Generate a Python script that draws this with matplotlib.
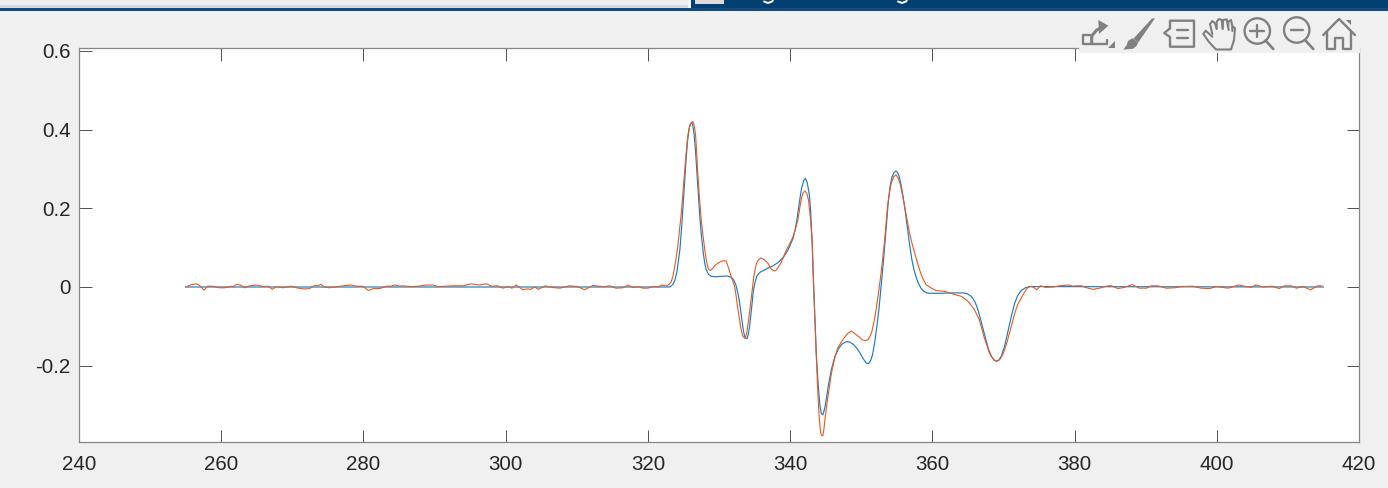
import matplotlib
matplotlib.use('Agg')
import matplotlib.pyplot as plt
from matplotlib.patches import Circle, Polygon, Rectangle

# --- data ---
x_blue = [255.0, 323.1, 323.5, 323.8, 324.1, 324.5, 324.8, 325.0, 325.2, 325.4, 325.6, 325.8, 326.0, 326.15,
          326.3, 326.5, 326.7, 326.9, 327.1, 327.3, 327.5, 327.8, 328.0, 328.2, 328.5, 328.9, 329.5, 330.3,
          331.1, 331.7, 332.1, 332.4, 332.7, 332.9, 333.2, 333.4, 333.6, 333.8, 333.95, 334.1, 334.3, 334.55,
          334.8, 335.0, 335.3, 335.6, 335.9, 336.7, 337.6, 338.3, 339.0, 339.7, 340.4, 340.7, 341.0, 341.3,
          341.6, 341.9, 342.15, 342.4, 342.7, 342.9, 343.1, 343.3, 343.5, 343.7, 343.95, 344.2, 344.4, 344.6,
          344.85, 345.1, 345.4, 345.8, 346.3, 346.8, 347.3, 347.9, 348.4, 348.9, 349.4, 349.8, 350.3, 350.7,
          351.0, 351.3, 351.6, 351.9, 352.2, 352.5, 353.1, 353.5, 353.8, 354.05, 354.3, 354.6, 354.9, 355.15,
          355.4, 355.75, 356.1, 356.5, 356.8, 357.1, 357.4, 357.7, 358.0, 358.4, 358.8, 359.2, 359.6, 361.0,
          363.0, 364.3, 364.9, 365.5, 366.0, 366.4, 366.9, 367.4, 367.9, 368.3, 368.65, 369.0, 369.35, 369.7,
          370.2, 370.7, 371.1, 371.6, 372.0, 372.5, 373.1, 373.7, 415.0]
y_blue = [0.0, 0.0, 0.006, 0.017, 0.040, 0.095, 0.165, 0.222, 0.278, 0.332, 0.374, 0.402, 0.416, 0.418,
          0.412, 0.388, 0.345, 0.290, 0.232, 0.180, 0.135, 0.085, 0.060, 0.044, 0.033, 0.027, 0.026, 0.027,
          0.028, 0.025, 0.017, 0.004, -0.019, -0.040, -0.080, -0.108, -0.125, -0.131, -0.131, -0.122, -0.100, -0.060,
          -0.015, 0.007, 0.027, 0.034, 0.039, 0.046, 0.054, 0.062, 0.074, 0.094, 0.123, 0.145, 0.176, 0.215,
          0.250, 0.270, 0.276, 0.266, 0.235, 0.190, 0.110, 0.002, -0.090, -0.176, -0.250, -0.303, -0.322, -0.325,
          -0.310, -0.284, -0.248, -0.210, -0.177, -0.157, -0.145, -0.139, -0.140, -0.146, -0.156, -0.167, -0.183, -0.193,
          -0.195, -0.188, -0.172, -0.140, -0.100, -0.055, 0.061, 0.150, 0.215, 0.255, 0.278, 0.291, 0.295, 0.290,
          0.277, 0.245, 0.205, 0.150, 0.108, 0.072, 0.045, 0.026, 0.011, -0.003, -0.011, -0.015, -0.016, -0.016,
          -0.015, -0.015, -0.017, -0.024, -0.038, -0.057, -0.090, -0.125, -0.158, -0.176, -0.185, -0.189, -0.186, -0.176,
          -0.148, -0.108, -0.075, -0.040, -0.022, -0.009, -0.002, 0.001, 0.0]

x_orange_left = [255.0, 255.8, 256.5, 256.9, 257.6, 258.1, 258.8, 259.7, 260.5, 261.4, 261.6, 262.2, 262.8,
                 263.3, 264.0, 265.0, 265.9, 266.6, 267.2, 267.7, 268.7, 269.8, 270.8, 271.7, 272.4, 273.2,
                 273.6, 274.0, 274.5, 275.2, 276.4, 277.6, 278.3, 279.0, 279.9, 280.7, 281.4, 282.3, 283.2,
                 283.9, 284.4, 285.1, 285.5, 286.7, 287.7, 288.8, 289.8, 290.5, 291.6, 292.6, 294.0, 295.15,
                 295.9, 296.3, 297.3, 298.0, 298.9, 299.6, 300.3, 300.9, 301.5, 302.4, 303.1, 303.5, 304.1,
                 304.6, 305.6, 306.4, 307.6, 309.0, 310.1, 311.1, 312.3, 313.0, 313.9, 314.6, 315.5, 316.5,
                 317.2, 317.9, 318.6, 319.3, 320.0, 320.7, 321.4, 322.0]
y_orange_left = [0.0, 0.006, 0.008, 0.005, -0.008, 0.002, 0.002, -0.002, -0.002, 0.002, 0.0, 0.007, 0.004,
                 -0.002, 0.003, 0.005, 0.001, 0.002, -0.006, 0.001, -0.002, 0.002, -0.003, -0.005, -0.004, 0.004,
                 0.003, 0.007, 0.0, -0.002, 0.001, 0.004, 0.005, 0.002, 0.002, -0.009, -0.004, -0.004, 0.002,
                 0.002, 0.005, 0.002, 0.003, 0.001, 0.002, 0.005, 0.005, 0.001, 0.002, 0.003, 0.003, 0.008,
                 0.006, 0.005, 0.008, 0.002, 0.003, -0.003, 0.001, -0.003, 0.005, -0.007, -0.005, -0.006, 0.0,
                 -0.006, 0.003, -0.001, -0.003, 0.003, 0.001, -0.007, 0.004, 0.002, 0.001, 0.003, -0.003, -0.002,
                 0.005, -0.001, 0.001, -0.003, -0.003, 0.001, 0.0, 0.005]

x_orange_mid = [322.6, 323.0, 323.3, 323.5, 323.7, 323.95, 324.2, 324.45, 324.7, 324.9, 325.1, 325.35, 325.6,
                325.85, 326.1, 326.3, 326.5, 326.7, 326.85, 327.0, 327.25, 327.5, 327.75, 328.0, 328.2, 328.4,
                328.6, 328.8, 329.1, 329.4, 329.8, 330.3, 330.6, 331.0, 331.35, 331.7, 332.0, 332.2, 332.4,
                332.6, 332.85, 333.1, 333.35, 333.6, 333.75, 333.9, 334.15, 334.4, 334.65, 334.9, 335.1, 335.3,
                335.6, 335.9, 336.4, 336.9, 337.3, 337.6, 337.85, 338.1, 338.4, 338.7, 339.1, 339.5, 339.95,
                340.4, 340.75, 341.1, 341.35, 341.6, 341.85, 342.1, 342.35, 342.6, 342.85, 343.1, 343.3, 343.5,
                343.7, 343.85, 344.0, 344.15, 344.3, 344.45, 344.6, 344.75, 344.9, 345.15, 345.4, 345.7, 346.0,
                346.35, 346.7, 347.2, 347.7, 348.15, 348.6, 349.0, 349.4, 349.8, 350.1, 350.5, 350.9, 351.2,
                351.5, 351.8, 352.1, 352.45, 352.8, 353.05, 353.3, 353.5, 353.7, 353.95, 354.2, 354.55, 354.9,
                355.2, 355.5, 355.8, 356.1, 356.45, 356.8, 357.15, 357.5, 357.85, 358.2, 358.6, 359.1, 359.8,
                360.5, 361.7, 362.9, 364.1, 365.0, 365.9, 366.6, 367.3, 367.7, 368.0, 368.35, 368.7, 369.2,
                369.55, 369.9, 370.25, 370.6, 371.1, 371.6, 372.0, 372.5, 373.0, 373.4, 373.9]
y_orange_mid = [0.002, 0.007, 0.014, 0.026, 0.044, 0.070, 0.103, 0.145, 0.188, 0.233, 0.281, 0.335, 0.383,
                0.408, 0.417, 0.421, 0.412, 0.388, 0.345, 0.292, 0.228, 0.171, 0.130, 0.095, 0.070, 0.053,
                0.044, 0.042, 0.047, 0.054, 0.060, 0.065, 0.067, 0.066, 0.048, 0.027, 0.012, 0.002, -0.022,
                -0.049, -0.078, -0.108, -0.125, -0.130, -0.127, -0.117, -0.085, -0.049, -0.010, 0.027, 0.047, 0.061,
                0.070, 0.074, 0.069, 0.060, 0.047, 0.042, 0.041, 0.044, 0.052, 0.061, 0.078, 0.095, 0.110,
                0.127, 0.147, 0.172, 0.200, 0.226, 0.240, 0.244, 0.238, 0.220, 0.175, 0.120, 0.010, -0.090,
                -0.184, -0.248, -0.303, -0.345, -0.371, -0.378, -0.378, -0.362, -0.337, -0.300, -0.269, -0.232, -0.202,
                -0.175, -0.155, -0.140, -0.127, -0.117, -0.112, -0.117, -0.123, -0.128, -0.134, -0.136, -0.135, -0.127,
                -0.113, -0.088, -0.057, -0.012, 0.036, 0.078, 0.120, 0.163, 0.205, 0.238, 0.262, 0.280, 0.285,
                0.277, 0.260, 0.234, 0.205, 0.170, 0.137, 0.110, 0.087, 0.065, 0.044, 0.024, 0.006, -0.002,
                -0.009, -0.011, -0.018, -0.024, -0.036, -0.057, -0.083, -0.129, -0.150, -0.167, -0.178, -0.186, -0.188,
                -0.183, -0.172, -0.155, -0.134, -0.100, -0.066, -0.045, -0.028, -0.012, -0.002, 0.002]

x_orange_right = [374.5, 374.7, 375.2, 376.0, 377.0, 377.9, 379.1, 379.8, 380.2, 381.0, 381.5,
                  382.6, 383.5, 384.7, 385.2, 386.1, 387.0, 388.1, 389.1, 390.1, 390.8, 391.7, 392.9, 394.1,
                  395.0, 396.6, 397.8, 399.0, 399.9, 401.6, 403.1, 404.1, 404.8, 405.5, 406.5, 407.7, 408.8,
                  409.5, 410.5, 411.2, 412.1, 413.2, 414.2, 414.8]
y_orange_right = [-0.004, -0.007, 0.003, -0.001, 0.0, 0.003, 0.005, 0.002, 0.003, 0.003, -0.001,
                  -0.006, -0.003, 0.003, 0.003, -0.004, -0.001, 0.006, -0.003, -0.003, 0.003, 0.003, -0.003, -0.002,
                  0.001, 0.002, -0.003, -0.004, 0.001, -0.003, 0.005, 0.001, -0.001, 0.005, 0.0, 0.002, -0.004,
                  0.003, 0.003, -0.003, 0.001, -0.007, 0.003, 0.003]

x_ticks = [240, 260, 280, 300, 320, 340, 360, 380, 400, 420]
y_ticks = [-0.2, 0, 0.2, 0.4, 0.6]
y_tick_labels = ['-0.2', '0', '0.2', '0.4', '0.6']

W, H = 1388, 488
BG = '#f0f0f0'
ICON = '#808080'

plt.rcParams['font.family'] = ['Liberation Sans', 'DejaVu Sans']

fig = plt.figure(figsize=(W / 100, H / 100), dpi=100, facecolor=BG)
ax = fig.add_axes([79.0 / W, (H - 441.8) / H, 1280.0 / W, 393.8 / H], facecolor='white')

ax.plot(x_blue, y_blue, color='#1a7cc0', linewidth=0.85)
ax.plot(x_orange_left + x_orange_mid + x_orange_right,
        y_orange_left + y_orange_mid + y_orange_right, color='#E8581F', linewidth=0.8)

ax.set_xlim(240, 420)
ax.set_ylim(-0.3936, 0.6076)
ax.set_xticks(x_ticks)
ax.set_yticks(y_ticks)
ax.set_yticklabels(y_tick_labels)
ax.tick_params(direction='in', length=9, width=0.7, color='#505050', top=True, right=True,
               labelsize=14.8, labelcolor='#262626')
ax.tick_params(axis='x', pad=9.5)
ax.tick_params(axis='y', pad=6)
for t in ax.get_yticklabels():
    t.set_verticalalignment('center_baseline')
for s in ax.spines.values():
    s.set_color('#868686')
    s.set_linewidth(0.9)

# --- window chrome and toolbar, in screen pixels ---
ui = fig.add_axes([0, 0, 1, 1], zorder=5)
ui.set_xlim(0, W)
ui.set_ylim(H, 0)
ui.axis('off')


def box(x0, y0, x1, y1, color):
    ui.add_patch(Rectangle((x0, y0), x1 - x0, y1 - y0, facecolor=color, edgecolor='none'))


def stroke(pts, lw=1.7, color=ICON):
    ui.plot([p[0] for p in pts], [p[1] for p in pts], color=color, linewidth=lw,
            solid_capstyle='round', solid_joinstyle='round')


def solid(pts, color=ICON):
    ui.add_patch(Polygon(pts, closed=True, facecolor=color, edgecolor='none'))


box(0, 0, 690, 5, '#eeeeee')
box(0, 5, 690, 8, '#d8d8d8')
box(690, 0, W, 8, '#03406f')
box(0, 8, W, 11, '#0f4a85')
box(688, 0, 691, 8, '#f6f6f6')
box(695, 0, 724, 4, '#dcdcdc')

# bottoms of the cut-off title letters
stroke([(764, 1.5), (768, 3), (772, 1.5), (773, 0)], lw=1.4, color='white')
stroke([(898, 1.5), (902, 3), (906, 1.5), (907, 0)], lw=1.4, color='white')

box(1079, 11, 1360, 53, BG)

# export
stroke([(1090, 35), (1083.3, 35), (1083.3, 44.3), (1106.7, 44.3), (1106.7, 40)])
stroke([(1091.7, 43), (1091.7, 36), (1096.7, 30), (1101, 28)], lw=2.2)
solid([(1098.3, 20), (1108.3, 25.7), (1099, 34)])
solid([(1107.7, 48.3), (1115, 48.3), (1115, 40.7)])

# brush
solid([(1155, 18.3), (1152, 18.5), (1133.3, 38.8), (1138.3, 42.3)])
solid([(1132.3, 38.3), (1138.3, 42.3), (1136.5, 46), (1133, 48.8), (1123.3, 49.6), (1126.7, 45), (1128, 41)])

# legend
stroke([(1170, 28.3), (1170, 20.7), (1194, 20.7), (1194, 46.7), (1170, 46.7), (1170, 37),
        (1164.3, 33), (1170, 28.3)])
stroke([(1176.7, 30), (1188.3, 30)])
stroke([(1176.7, 38.3), (1188.3, 38.3)])

# hand
stroke([(1212.3, 36.7), (1205.7, 30.7), (1203.3, 34), (1209, 42), (1216, 49.5), (1231, 49.5),
        (1234, 40), (1235, 28.3), (1232.3, 26), (1232.3, 31)], lw=1.5)
stroke([(1212.3, 34), (1210, 24), (1212.3, 21), (1215, 23.3), (1216.7, 29)], lw=1.5)
stroke([(1216.7, 28), (1216.7, 21.7), (1219, 19), (1221.7, 20), (1222.7, 29)], lw=1.5)
stroke([(1222.7, 28), (1223, 20), (1226.7, 19.3), (1228.7, 30)], lw=1.5)
stroke([(1228.3, 26), (1228.3, 21.7), (1231, 20), (1232.3, 26)], lw=1.5)

# zoom in
ui.add_patch(Circle((1257.3, 31), 12.7, fill=False, edgecolor=ICON, linewidth=1.7))
stroke([(1265.5, 40.5), (1273.3, 49)], lw=1.9)
stroke([(1250, 31), (1264.3, 31)])
stroke([(1257.3, 25), (1257.3, 36.7)])

# zoom out
ui.add_patch(Circle((1296.7, 30), 12.7, fill=False, edgecolor=ICON, linewidth=1.7))
stroke([(1305, 40), (1313.3, 49)], lw=1.9)
stroke([(1290.7, 30), (1303.3, 30)])

# home
stroke([(1323.3, 35), (1339, 19), (1355, 35)])
stroke([(1327.3, 32), (1327.3, 49), (1335, 49), (1335, 38.3), (1342.7, 38.3), (1342.7, 49),
        (1350.7, 49), (1350.7, 32)])
solid([(1346, 20), (1351, 20), (1351, 25)])

fig.savefig('out.png', dpi=100, facecolor=BG)
